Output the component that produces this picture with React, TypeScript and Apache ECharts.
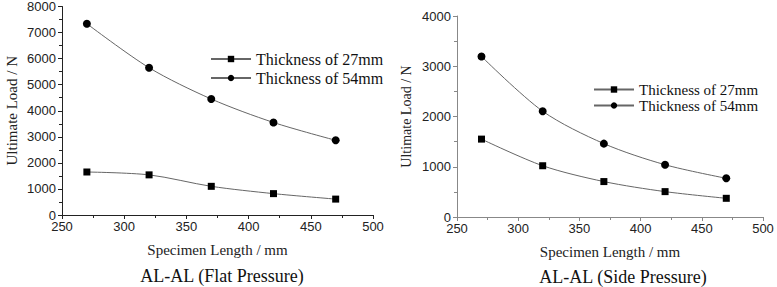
import React, { useEffect, useRef } from "react";
import * as echarts from "echarts";

const lengths = [270, 320, 370, 420, 470];
const flat27 = [1650, 1540, 1100, 820, 610];
const flat54 = [7340, 5650, 4450, 3550, 2865];
const side27 = [1550, 1020, 705, 505, 372];
const side54 = [3195, 2105, 1460, 1040, 770];
const name27 = "Thickness of 27mm";
const name54 = "Thickness of 54mm";
const titles = ["AL-AL (Flat Pressure)", "AL-AL (Side Pressure)"];
const xName = "Specimen Length / mm";
const yName = "Ultimate Load / N";

const SERIF = "Liberation Serif, Times New Roman, serif";
const SANS = "Liberation Sans, Arial, sans-serif";

function pairs(xs: number[], ys: number[]) {
  return xs.map((x, i) => [x, ys[i]]);
}

export default function App() {
  const ref = useRef<HTMLDivElement>(null);
  useEffect(() => {
    document.body.style.margin = "0";
    const chart = echarts.init(ref.current!, undefined, { renderer: "svg" });
    const xAxisBase = (gi: number, axisColor: string) => ({
      type: "value",
      gridIndex: gi,
      min: 250,
      max: 500,
      interval: 50,
      name: xName,
      nameLocation: "middle",
      nameGap: 27,
      nameTextStyle: { fontFamily: SERIF, fontSize: 15, color: "#222", fontWeight: "normal" },
      axisLine: { show: true, lineStyle: { color: axisColor, width: 1 } },
      axisTick: { show: true, length: 4, lineStyle: { color: axisColor } },
      minorTick: { show: true, splitNumber: 2, length: 3, lineStyle: { color: axisColor } },
      axisLabel: { fontFamily: SANS, fontSize: 13, color: "#222", margin: 5, formatter: (v: number) => String(v) },
      splitLine: { show: false },
    });
    const yAxisBase = (gi: number, max: number, interval: number, axisColor: string, gap: number, fs: number) => ({
      type: "value",
      gridIndex: gi,
      min: 0,
      max,
      interval,
      name: yName,
      nameLocation: "middle",
      nameGap: gap,
      nameTextStyle: { fontFamily: SERIF, fontSize: fs, color: "#222", fontWeight: "normal" },
      axisLine: { show: true, lineStyle: { color: axisColor, width: 1 } },
      axisTick: { show: true, length: 4, lineStyle: { color: axisColor } },
      minorTick: { show: true, splitNumber: 2, length: 3, lineStyle: { color: axisColor } },
      axisLabel: { fontFamily: SANS, fontSize: 13, color: "#222", margin: 6, formatter: (v: number) => String(v) },
      splitLine: { show: false },
    });
    const seriesBase = (name: string, gi: number, data: number[][], symbol: string, size: number) => ({
      type: "line",
      name,
      xAxisIndex: gi,
      yAxisIndex: gi,
      data,
      smooth: 0.3,
      symbol,
      symbolSize: size,
      lineStyle: { color: "#666", width: 1 },
      itemStyle: { color: "#000" },
    });
    chart.setOption({
      animation: false,
      backgroundColor: "#fff",
      textStyle: { fontFamily: SERIF },
      title: [
        {
          text: titles[0],
          left: 217,
          top: 262,
          textAlign: "center",
          textStyle: { fontFamily: SERIF, fontSize: 18, fontWeight: "normal", color: "#111" },
        },
        {
          text: titles[1],
          left: 618,
          top: 263,
          textAlign: "center",
          textStyle: { fontFamily: SERIF, fontSize: 18, fontWeight: "normal", color: "#111" },
        },
      ],
      legend: [
        {
          orient: "vertical",
          left: 205,
          top: 46,
          itemWidth: 40,
          itemHeight: 8,
          itemGap: 3,
          data: [name27, name54].map((n) => ({ name: n })),
          textStyle: { fontFamily: SERIF, fontSize: 16, color: "#111", fontWeight: "normal" },
        } as any,
        {
          orient: "vertical",
          left: 588,
          top: 77,
          itemWidth: 40,
          itemHeight: 8,
          itemGap: 1,
          data: [name27, name54].map((n) => ({ name: n })),
          textStyle: { fontFamily: SERIF, fontSize: 15, color: "#111", fontWeight: "normal" },
        } as any,
      ],
      grid: [
        { left: 62, top: 6, width: 311, height: 209 },
        { left: 457, top: 16, width: 306, height: 201 },
      ],
      xAxis: [xAxisBase(0, "#222"), xAxisBase(1, "#888")],
      yAxis: [yAxisBase(0, 8000, 1000, "#222", 43, 15), yAxisBase(1, 4000, 1000, "#888", 44, 14)],
      series: [
        seriesBase(name27, 0, pairs(lengths, flat27), "rect", 7),
        seriesBase(name54, 0, pairs(lengths, flat54), "circle", 8),
        seriesBase(name27, 1, pairs(lengths, side27), "rect", 7),
        seriesBase(name54, 1, pairs(lengths, side54), "circle", 8),
      ],
    });
    return () => chart.dispose();
  }, []);
  return <div ref={ref} style={{ width: 777, height: 287 }} />;
}
